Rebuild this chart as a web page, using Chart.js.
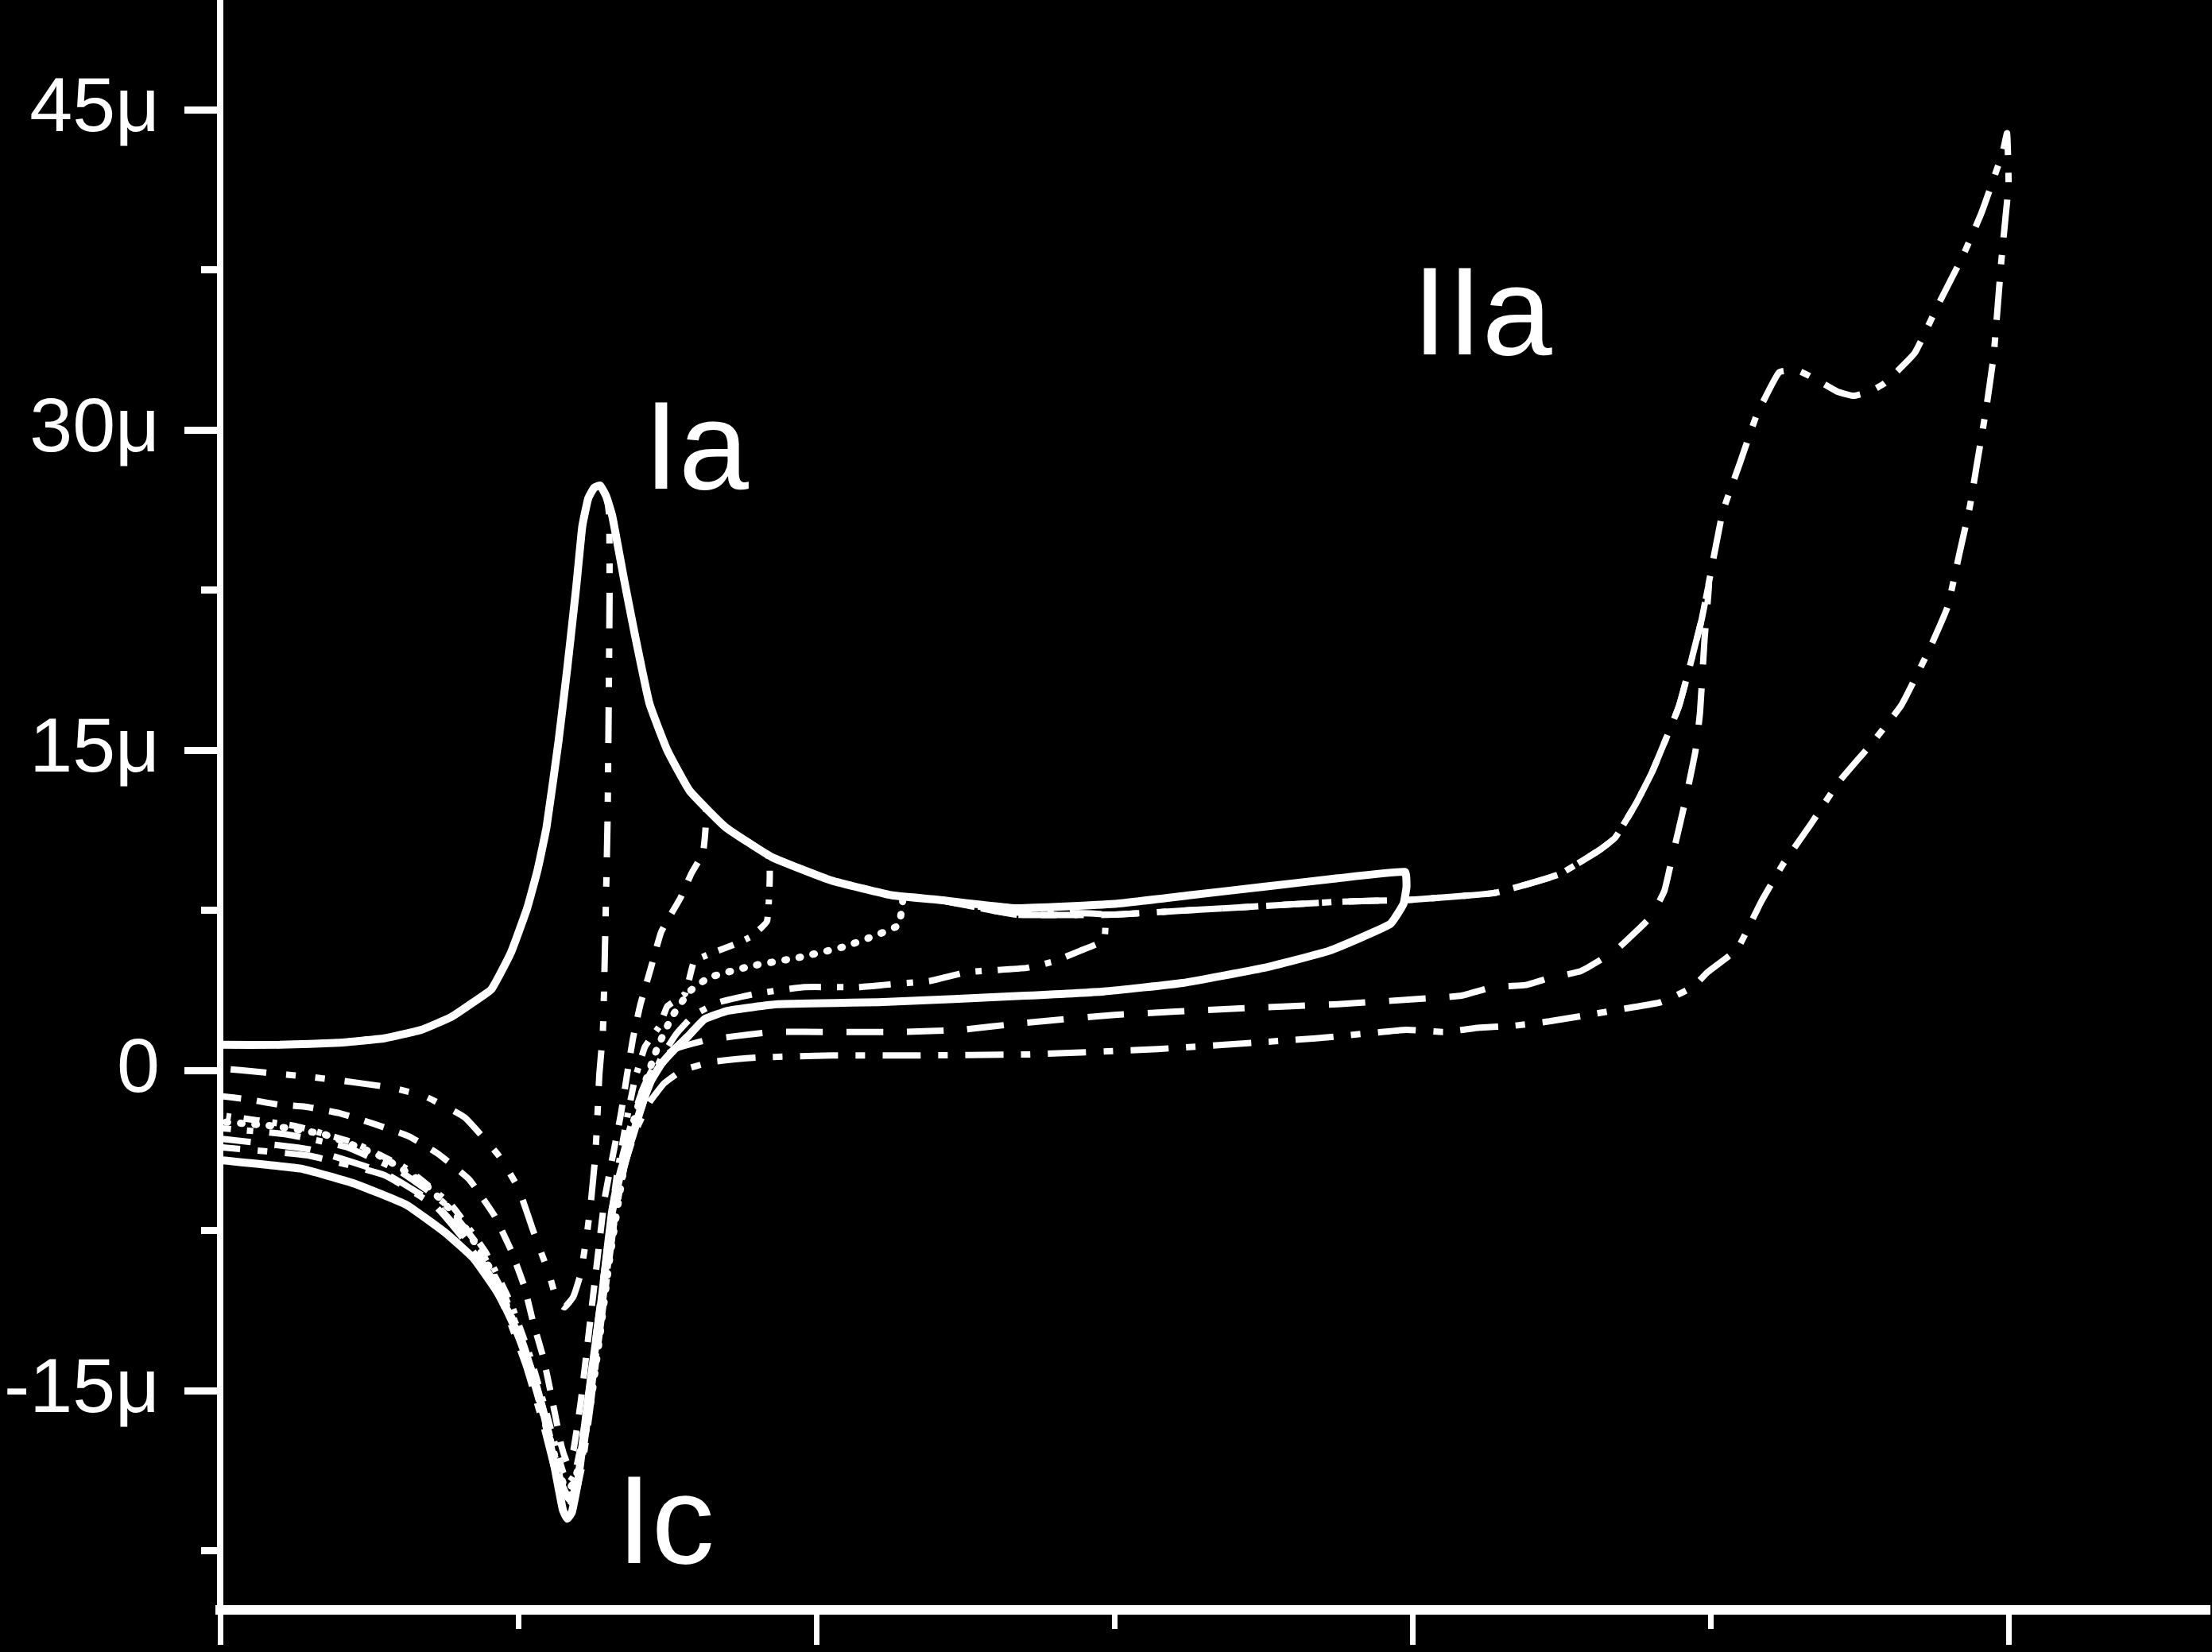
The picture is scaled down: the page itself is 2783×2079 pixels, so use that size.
<!DOCTYPE html>
<html><head><meta charset="utf-8">
<script src="https://cdn.jsdelivr.net/npm/chart.js@4.4.1/dist/chart.umd.min.js"></script>
<style>html,body{margin:0;padding:0;background:#000;overflow:hidden}canvas{display:block}</style>
</head><body><canvas id="c" width="2783" height="2079"></canvas>
<script>
// Potential (V) / current (µA) pairs
const forwardScan = [[0.000,1.2],[0.040,1.2],[0.080,1.3],[0.110,1.5],[0.135,1.9],[0.155,2.5],[0.170,3.2],[0.182,3.8],[0.195,5.5],[0.206,7.6],[0.213,9.4],[0.219,11.4],[0.227,15.4],[0.233,18.9],[0.239,22.7],[0.243,25.5],[0.247,26.8],[0.251,27.3],[0.255,27.4],[0.259,26.9],[0.263,26.0],[0.271,23.0],[0.278,20.5],[0.288,17.2],[0.300,15.0],[0.315,13.1],[0.339,11.4],[0.370,10.0],[0.410,8.9],[0.451,8.2],[0.481,8.0]];

const dvBranch = [[0.261,26.0],[0.2613,22.4],[0.2600,12.0],[0.2576,3.8],[0.2568,1.8],[0.2544,-0.2],[0.2533,-1.9],[0.2517,-4.0],[0.2490,-6.0],[0.2464,-7.5],[0.2420,-9.5],[0.2370,-10.6],[0.2310,-11.1],[0.2260,-10.8],[0.2210,-9.6],[0.2100,-7.5],[0.2000,-5.5],[0.1870,-4.0],[0.1640,-2.2],[0.1370,-1.2],[0.1140,-0.8],[0.0890,-0.55],[0.0600,-0.3],[0.0300,-0.1],[0.0000,0.1]];

const d2Branch = [[0.326,12.2],[0.324,10.2],[0.316,9.2],[0.309,8.1],[0.296,6.5],[0.289,4.8],[0.282,3.1],[0.277,1.5],[0.273,-0.2],[0.269,-2.0],[0.264,-3.8],[0.258,-6.0],[0.252,-9.5],[0.247,-12.5],[0.242,-15.5],[0.237,-17.8],[0.233,-18.4],[0.229,-17.6],[0.223,-15.5],[0.217,-13.5],[0.210,-11.8],[0.204,-10.1],[0.195,-8.4],[0.184,-6.8],[0.167,-5.1],[0.146,-3.9],[0.127,-3.1],[0.103,-2.5],[0.080,-2.0],[0.057,-1.7],[0.039,-1.6],[0.018,-1.35],[0.000,-1.2]];

const d3Branch = [[0.368,10.0],[0.367,7.0],[0.357,6.3],[0.345,5.9],[0.330,5.5],[0.318,5.1],[0.312,3.6],[0.300,3.0],[0.295,2.1],[0.285,1.1],[0.278,-0.5],[0.272,-2.6],[0.266,-5.0],[0.260,-8.2],[0.254,-11.6],[0.248,-14.8],[0.243,-17.2],[0.238,-18.9],[0.234,-19.3],[0.230,-18.8],[0.225,-17.6],[0.218,-15.8],[0.208,-13.4],[0.195,-10.9],[0.178,-8.5],[0.155,-6.3],[0.125,-4.6],[0.090,-3.4],[0.050,-2.6],[0.000,-2.1]];

const dottedBranch = [[0.458,8.1],[0.455,6.8],[0.435,6.2],[0.419,5.8],[0.389,5.3],[0.357,4.9],[0.328,4.35],[0.315,3.7],[0.303,2.5],[0.293,1.0],[0.284,-0.8],[0.275,-3.0],[0.268,-5.8],[0.261,-9.0],[0.255,-12.3],[0.249,-15.4],[0.243,-17.8],[0.238,-19.2],[0.234,-19.6],[0.230,-19.3],[0.225,-18.2],[0.218,-16.4],[0.209,-14.2],[0.197,-11.8],[0.182,-9.4],[0.162,-7.1],[0.137,-5.3],[0.107,-4.0],[0.070,-3.0],[0.035,-2.6],[0.000,-2.4]];

const ddsBranch = [[0.534,7.4],[0.593,7.3],[0.593,6.1],[0.577,5.6],[0.559,5.1],[0.541,4.8],[0.501,4.6],[0.477,4.2],[0.445,4.0],[0.428,3.9],[0.392,3.9],[0.360,3.6],[0.335,3.2],[0.318,2.6],[0.306,1.7],[0.296,0.6],[0.287,-0.9],[0.279,-2.6],[0.271,-4.6],[0.265,-6.8],[0.258,-10.2],[0.252,-13.4],[0.247,-16.2],[0.242,-18.6],[0.237,-19.8],[0.233,-19.9],[0.229,-19.3],[0.223,-17.6],[0.215,-15.4],[0.204,-12.9],[0.190,-10.4],[0.172,-8.1],[0.150,-6.2],[0.120,-4.7],[0.085,-3.6],[0.045,-3.0],[0.000,-2.7]];

const solidBranch = [[0.534,7.6],[0.600,7.8],[0.650,8.2],[0.700,8.6],[0.750,9.0],[0.795,9.3],[0.796,8.6],[0.794,7.8],[0.785,6.85],[0.744,5.6],[0.700,4.8],[0.646,4.1],[0.593,3.7],[0.540,3.5],[0.445,3.2],[0.374,3.1],[0.341,2.8],[0.325,2.4],[0.314,1.6],[0.305,1.0],[0.296,0.3],[0.289,-0.5],[0.284,-1.4],[0.277,-3.0],[0.269,-4.7],[0.263,-6.6],[0.256,-10.7],[0.250,-13.8],[0.245,-16.5],[0.240,-19.3],[0.236,-20.7],[0.233,-21.0],[0.230,-20.6],[0.225,-18.8],[0.218,-16.3],[0.210,-14.3],[0.200,-12.4],[0.188,-10.6],[0.170,-8.8],[0.151,-7.6],[0.125,-6.3],[0.090,-5.3],[0.054,-4.6],[0.000,-4.2]];

const dBranch = [[0.534,7.3],[0.600,7.3],[0.650,7.5],[0.700,7.7],[0.750,7.9],[0.800,8.0],[0.854,8.3],[0.876,8.7],[0.899,9.2],[0.925,10.3],[0.936,10.9],[0.950,12.5],[0.961,14.0],[0.979,17.1],[0.994,21.1],[0.999,22.8],[0.996,20.2],[0.993,16.8],[0.990,15.0],[0.983,12.6],[0.975,10.2],[0.969,8.4],[0.960,7.2],[0.950,6.5],[0.936,5.6],[0.913,4.65],[0.893,4.35],[0.876,4.0],[0.854,3.9],[0.833,3.5],[0.815,3.4],[0.750,3.1],[0.682,2.9],[0.600,2.6],[0.536,2.2],[0.497,1.9],[0.456,1.8],[0.413,1.8],[0.371,1.8],[0.345,1.6],[0.325,1.4],[0.305,1.0],[0.292,0.3],[0.284,-0.8],[0.277,-2.2],[0.270,-4.0],[0.264,-6.0],[0.257,-9.8],[0.251,-13.0],[0.246,-15.8],[0.241,-18.4],[0.237,-19.8],[0.234,-20.1],[0.230,-19.7],[0.224,-18.3],[0.216,-16.0],[0.205,-13.4],[0.190,-10.7],[0.170,-8.3],[0.145,-6.3],[0.110,-4.8],[0.060,-3.7],[0.000,-3.2]];

const ddBranch = [[0.534,7.3],[0.600,7.3],[0.650,7.5],[0.700,7.7],[0.750,7.9],[0.800,8.0],[0.854,8.3],[0.876,8.7],[0.899,9.2],[0.925,10.3],[0.936,10.9],[0.950,12.5],[0.961,14.0],[0.979,17.1],[0.994,21.1],[1.008,26.1],[1.020,28.5],[1.031,30.7],[1.046,32.7],[1.058,32.8],[1.070,32.4],[1.085,31.8],[1.096,31.6],[1.107,31.8],[1.117,32.2],[1.137,33.6],[1.153,35.9],[1.169,38.1],[1.182,40.2],[1.196,43.0],[1.199,43.9],[1.200,41.5],[1.198,40.0],[1.195,37.8],[1.190,33.5],[1.185,31.0],[1.179,28.5],[1.174,26.4],[1.167,24.2],[1.159,21.7],[1.146,19.6],[1.128,17.1],[1.108,15.3],[1.086,13.5],[1.067,11.5],[1.049,9.7],[1.034,7.9],[1.018,5.7],[0.998,4.6],[0.988,3.9],[0.967,3.2],[0.943,2.9],[0.918,2.6],[0.892,2.3],[0.869,2.1],[0.845,2.0],[0.821,1.8],[0.796,1.9],[0.735,1.5],[0.629,1.0],[0.543,0.75],[0.463,0.7],[0.410,0.7],[0.360,0.6],[0.330,0.4],[0.310,0.0],[0.298,-0.6],[0.288,-1.5],[0.279,-2.8],[0.272,-4.3],[0.266,-6.3],[0.259,-10.0],[0.253,-13.2],[0.248,-16.0],[0.243,-18.5],[0.238,-20.0],[0.234,-20.4],[0.230,-20.0],[0.224,-18.6],[0.216,-16.4],[0.205,-13.8],[0.190,-11.0],[0.170,-8.5],[0.145,-6.4],[0.110,-4.9],[0.060,-4.0],[0.000,-3.6]];

// number of shared forward-scan points used by each curve
const sharedForward = { dv: 20, d2: 26, d3: 27, dotted: 30, dds: 31, solid: 31, d: 31, dd: 31 };

const yTickStep = 7.5;
const xTickStep = 0.2;
const peakLabels = ['Ia', 'IIa', 'Ic'];
const peakLabelE = [0.2843, 0.800, 0.2661];
const peakLabelI = [27.25, 33.54, -23.07];

function curve(key, branch) {
  return forwardScan.slice(0, sharedForward[key]).concat(branch).map(p => ({x: p[0], y: p[1]}));
}

const styles = {
  dv:     {dash: [45, 25, 12, 25, 12, 25], w: 8},
  d2:     {dash: [26, 20], w: 8},
  d3:     {dash: [20, 16, 6, 16], w: 8},
  dotted: {dash: [2, 16], w: 9, cap: 'round'},
  dds:    {dash: [40, 20, 8, 20], w: 8},
  solid:  {dash: [], w: 10},
  d:      {dash: [46, 30], w: 8},
  dd:     {dash: [48, 22, 12, 22], w: 8}
};
const branches = {dv: dvBranch, d2: d2Branch, d3: d3Branch, dotted: dottedBranch, dds: ddsBranch, d: dBranch, dd: ddBranch, solid: solidBranch};

const datasets = Object.keys(branches).map(k => ({
  label: k,
  data: curve(k, branches[k]),
  showLine: true,
  borderColor: '#ffffff',
  borderWidth: styles[k].w,
  borderDash: styles[k].dash,
  borderCapStyle: styles[k].cap || 'butt',
  pointRadius: 0,
  fill: false,
  tension: 0.12
}));

const labelPlugin = {
  id: 'peakLabels',
  afterDatasetsDraw(chart) {
    const {ctx, scales: {x, y}} = chart;
    ctx.save();
    ctx.fillStyle = '#ffffff';
    ctx.font = '158px "Liberation Sans", Arial, sans-serif';
    ctx.textAlign = 'left';
    ctx.textBaseline = 'alphabetic';
    peakLabels.forEach((t, i) => ctx.fillText(t, x.getPixelForValue(peakLabelE[i]), y.getPixelForValue(peakLabelI[i])));
    ctx.restore();
  }
};

const isMajor = (v, step) => Math.round(v / step) % 2 === 0;

new Chart(document.getElementById('c'), {
  type: 'scatter',
  data: {datasets},
  options: {
    responsive: false,
    animation: false,
    devicePixelRatio: 1,
    layout: {padding: {top: 0, right: 3, bottom: 0, left: 0}},
    plugins: {legend: {display: false}, tooltip: {enabled: false}},
    scales: {
      x: {
        type: 'linear', position: 'bottom', min: 0, max: 1.3349,
        ticks: {display: false, stepSize: xTickStep, includeBounds: false},
        grid: {
          drawOnChartArea: false, drawTicks: true, tickLength: 44, tickWidth: 7, tickColor: '#ffffff',
          tickBorderDash: c => (c.tick && isMajor(c.tick.value, xTickStep)) ? [] : [18, 100]
        },
        border: {display: true, color: '#ffffff', width: 12},
        afterFit: s => { s.height = 53; s.paddingLeft = 0; s.paddingRight = 0; }
      },
      y: {
        type: 'linear', position: 'left', min: -25.27, max: 50.14,
        ticks: {
          stepSize: yTickStep, includeBounds: false, color: '#ffffff', padding: 31,
          font: {family: '"Liberation Sans", Arial, sans-serif', size: 97},
          callback: v => {
            if (!isMajor(v, yTickStep)) return '';
            return v === 0 ? '0' : Math.round(v) + 'μ';
          }
        },
        grid: {
          drawOnChartArea: false, drawTicks: true, tickLength: 45, tickWidth: 9, tickColor: '#ffffff',
          tickBorderDash: c => (c.tick && isMajor(c.tick.value, yTickStep)) ? [] : [0, 21, 30, 0]
        },
        border: {display: true, color: '#ffffff', width: 8},
        afterFit: s => { s.width = 277; s.paddingTop = 0; s.paddingBottom = 0; }
      }
    }
  },
  plugins: [labelPlugin]
});
</script>
</body></html>
